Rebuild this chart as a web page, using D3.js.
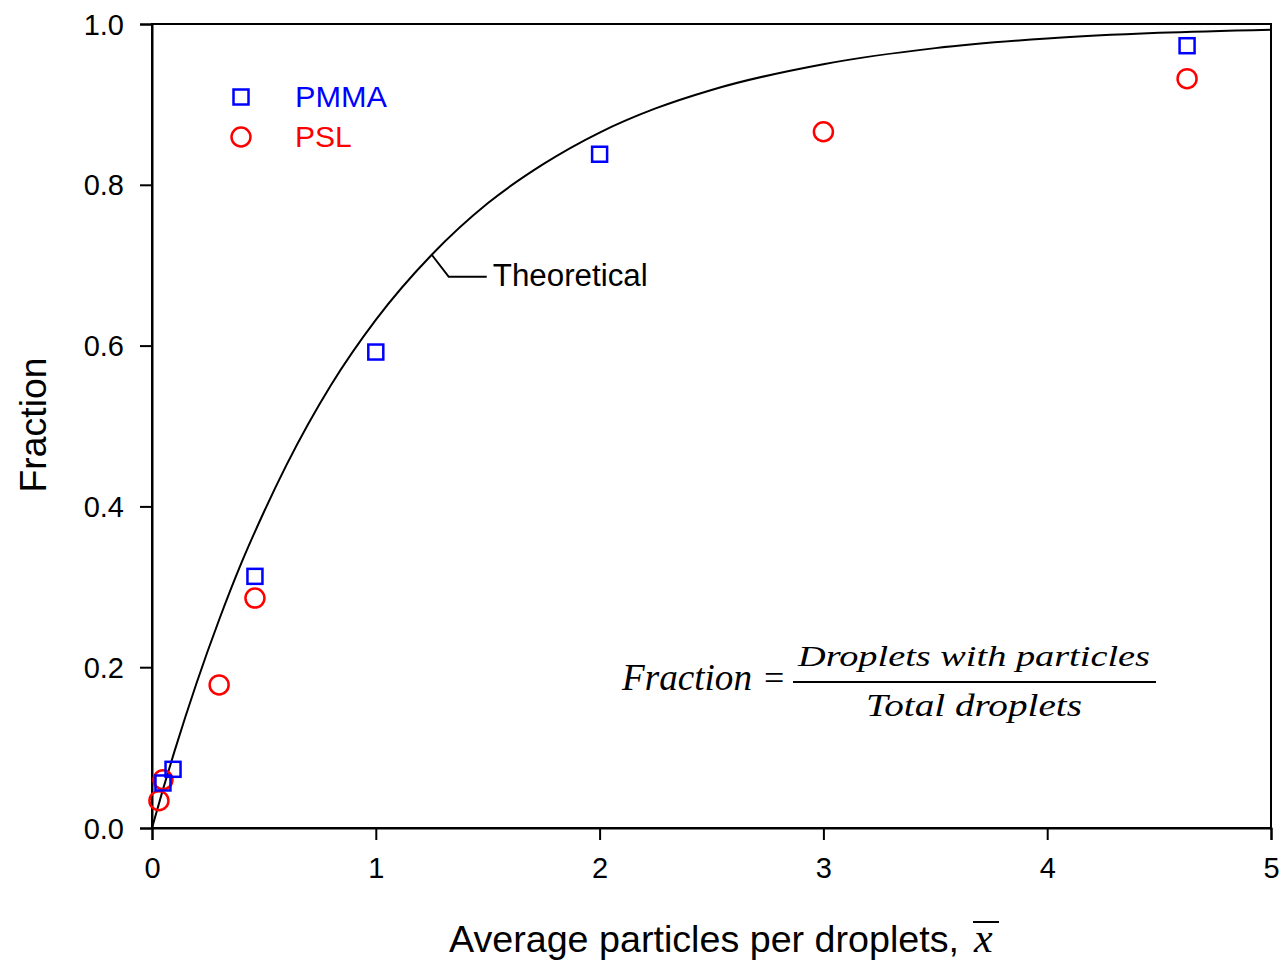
<!DOCTYPE html>
<html>
<head>
<meta charset="utf-8">
<script src="https://cdn.jsdelivr.net/npm/d3@7"></script>
<style>
  html, body { margin: 0; padding: 0; background: #fff; }
  svg { display: block; }
</style>
</head>
<body>
<svg id="chart" width="1283" height="963"></svg>
<script>
// ---- data ----
const xTicks = [0, 1, 2, 3, 4, 5];
const yTicks = [0, 0.2, 0.4, 0.6, 0.8, 1.0];
const yTickLabels = ["0.0", "0.2", "0.4", "0.6", "0.8", "1.0"];

const pmmaX = [0.049, 0.094, 0.46, 1.0, 2.0, 4.625];
const pmmaY = [0.056, 0.073, 0.313, 0.592, 0.838, 0.973];

const pslX = [0.031, 0.049, 0.30, 0.46, 3.0, 4.625];
const pslY = [0.034, 0.060, 0.178, 0.286, 0.866, 0.932];

const theoX = [0, 0.05, 0.1, 0.2, 0.3, 0.4, 0.5, 0.6, 0.8, 1.0, 1.25, 1.5, 1.75, 2.0, 2.25, 2.5, 3.0, 3.5, 4.0, 4.5, 5.0];
const theoY = [0, 0.049, 0.095, 0.181, 0.259, 0.330, 0.393, 0.451, 0.551, 0.632, 0.713, 0.777, 0.826, 0.865, 0.895, 0.918, 0.950, 0.970, 0.982, 0.989, 0.993];

const seriesNames = ["PMMA", "PSL"];
const seriesColors = ["#0000ff", "#ff0000"];

(function () {
// ---- layout ----
const svg = d3.select("#chart");
const pL = 152, pR = 1271, pT = 24, pB = 828;
const x = d3.scaleLinear().domain([0, 5]).range([pL, pR]);
const y = d3.scaleLinear().domain([0, 1]).range([pB, pT]);
const sans = "Liberation Sans, Arial, sans-serif";
const serif = "Liberation Serif, Times New Roman, serif";

// frame
svg.append("rect")
  .attr("x", pL).attr("y", pT)
  .attr("width", pR - pL).attr("height", pB - pT)
  .attr("fill", "none").attr("stroke", "#000").attr("stroke-width", 2);

// axes
const xAxis = d3.axisBottom(x).tickValues(xTicks).tickFormat(d3.format("d")).tickSizeOuter(0).tickSize(12).tickPadding(17);
const gx = svg.append("g").attr("transform", `translate(0,${pB})`).call(xAxis);
const yAxis = d3.axisLeft(y).tickValues(yTicks).tickFormat((d, i) => yTickLabels[i]).tickSizeOuter(0).tickSize(12).tickPadding(16);
const gy = svg.append("g").attr("transform", `translate(${pL},0)`).call(yAxis);
[gx, gy].forEach(g => {
  g.select(".domain").attr("stroke", "#000").attr("stroke-width", 2);
  g.selectAll(".tick line").attr("stroke", "#000").attr("stroke-width", 2);
  g.selectAll(".tick text").attr("fill", "#000").style("font-family", sans).style("font-size", "29px");
});
gy.selectAll(".tick text").attr("dy", "0.35em");

// theoretical curve
const theo = theoX.map((v, i) => [v, theoY[i]]);
svg.append("path")
  .datum(theo)
  .attr("fill", "none").attr("stroke", "#000").attr("stroke-width", 2)
  .attr("d", d3.line().x(d => x(d[0])).y(d => y(d[1])).curve(d3.curveMonotoneX));

// leader line + label
const ax = 1.25, ay = theoY[theoX.indexOf(1.25)];
svg.append("path")
  .attr("fill", "none").attr("stroke", "#000").attr("stroke-width", 2)
  .attr("d", `M${x(ax)},${y(ay)} L${x(ax) + 17},${y(ay) + 22} L${x(ax) + 55},${y(ay) + 22}`);
svg.append("text")
  .attr("x", x(ax) + 61).attr("y", y(ay) + 31)
  .style("font-family", sans).style("font-size", "31px").attr("fill", "#000")
  .attr("textLength", 155).attr("lengthAdjust", "spacingAndGlyphs")
  .text("Theoretical");

// PSL circles
const psl = pslX.map((v, i) => [v, pslY[i]]);
svg.append("g").selectAll("circle").data(psl).join("circle")
  .attr("cx", d => x(d[0])).attr("cy", d => y(d[1])).attr("r", 9.5)
  .attr("fill", "none").attr("stroke", seriesColors[1]).attr("stroke-width", 2.5);

// PMMA squares
const pmma = pmmaX.map((v, i) => [v, pmmaY[i]]);
const sq = 15;
svg.append("g").selectAll("rect").data(pmma).join("rect")
  .attr("x", d => x(d[0]) - sq / 2).attr("y", d => y(d[1]) - sq / 2)
  .attr("width", sq).attr("height", sq)
  .attr("fill", "none").attr("stroke", seriesColors[0]).attr("stroke-width", 2.5);

// legend
const lg = svg.append("g");
lg.append("rect").attr("x", 241 - sq / 2).attr("y", 97 - sq / 2).attr("width", sq).attr("height", sq)
  .attr("fill", "none").attr("stroke", seriesColors[0]).attr("stroke-width", 2.5);
lg.append("circle").attr("cx", 241).attr("cy", 137).attr("r", 9.5)
  .attr("fill", "none").attr("stroke", seriesColors[1]).attr("stroke-width", 2.5);
lg.append("text").attr("x", 295).attr("y", 107).style("font-family", sans).style("font-size", "30px")
  .attr("fill", seriesColors[0]).attr("textLength", 92).attr("lengthAdjust", "spacingAndGlyphs").text(seriesNames[0]);
lg.append("text").attr("x", 295).attr("y", 147).style("font-family", sans).style("font-size", "30px")
  .attr("fill", seriesColors[1]).text(seriesNames[1]);

// axis titles
svg.append("text")
  .attr("transform", "translate(46,425) rotate(-90)")
  .attr("text-anchor", "middle")
  .style("font-family", sans).style("font-size", "36px").attr("fill", "#000")
  .attr("textLength", 135).attr("lengthAdjust", "spacingAndGlyphs")
  .text("Fraction");

svg.append("text")
  .attr("x", 449).attr("y", 952)
  .style("font-family", sans).style("font-size", "36px").attr("fill", "#000")
  .attr("textLength", 510).attr("lengthAdjust", "spacingAndGlyphs")
  .text("Average particles per droplets,");
svg.append("text")
  .attr("x", 974).attr("y", 952)
  .style("font-family", serif).style("font-style", "italic").style("font-size", "42px").attr("fill", "#000")
  .text("x");
svg.append("line").attr("x1", 973).attr("x2", 999).attr("y1", 922).attr("y2", 922)
  .attr("stroke", "#000").attr("stroke-width", 2);

// formula
const fm = svg.append("g").style("font-family", serif).style("font-style", "italic").attr("fill", "#000");
fm.append("text").attr("x", 622).attr("y", 690).style("font-size", "37px")
  .attr("textLength", 130).attr("lengthAdjust", "spacingAndGlyphs").text("Fraction");
fm.append("text").attr("x", 764).attr("y", 690).style("font-size", "36px").style("font-style", "normal").text("=");
fm.append("text").attr("x", 798).attr("y", 666).style("font-size", "29px")
  .attr("textLength", 352).attr("lengthAdjust", "spacingAndGlyphs").text("Droplets with particles");
fm.append("line").attr("x1", 793).attr("x2", 1156).attr("y1", 682).attr("y2", 682)
  .attr("stroke", "#000").attr("stroke-width", 2);
fm.append("text").attr("x", 866).attr("y", 716).style("font-size", "32px")
  .attr("textLength", 216).attr("lengthAdjust", "spacingAndGlyphs").text("Total droplets");
})();
</script>
</body>
</html>
